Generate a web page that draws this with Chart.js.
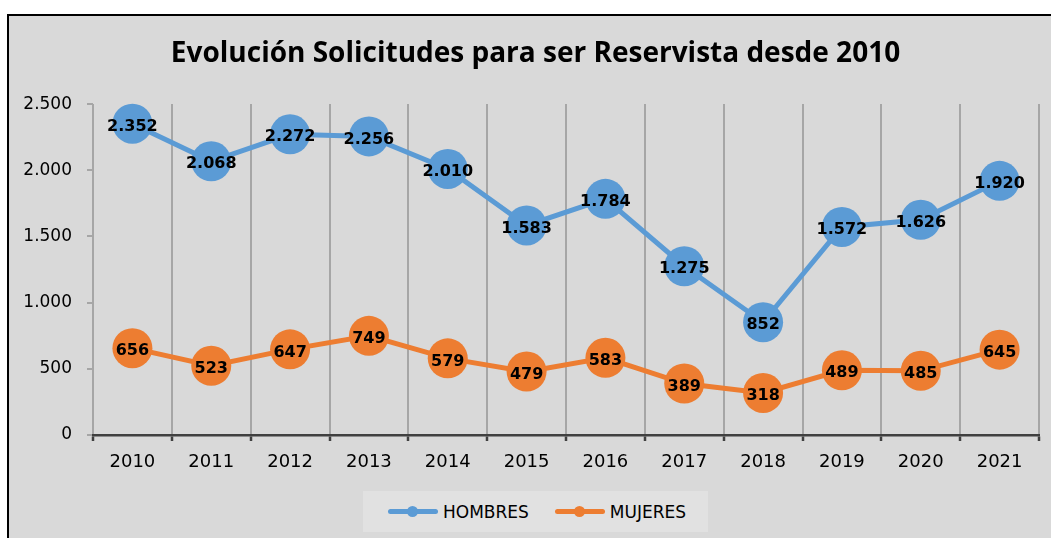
<!DOCTYPE html>
<html>
<head>
<meta charset="utf-8">
<script src="https://cdn.jsdelivr.net/npm/chart.js@4"></script>
<style>
  body { margin: 0; background: #fff; width: 1051px; height: 538px; overflow: hidden; position: relative; }
  #frame { position: absolute; left: 7px; top: 14px; width: 1100px; height: 600px;
           border-left: 2px solid #000; border-top: 2px solid #000; background: #d9d9d9; }
  #chart { position: absolute; left: 0; top: 0; }
  #legend { position: absolute; left: 363px; top: 491px; width: 345px; height: 41px; background: #e1e1e1;
            display: flex; align-items: center; padding-left: 25px; box-sizing: border-box;
            font-family: "DejaVu Sans"; font-size: 17px; color: #000; }
  .item { display: flex; align-items: center; margin-right: 26px; }
  .sw { position: relative; width: 50px; height: 5px; border-radius: 3px; margin-right: 5px; }
  .dot { position: absolute; left: 19px; top: -3px; width: 11px; height: 11px; border-radius: 50%; }
</style>
</head>
<body>
<div id="frame"></div>
<canvas id="chart" width="1051" height="538"></canvas>
<div id="legend"></div>
<script>
const years = ['2010', '2011', '2012', '2013', '2014', '2015', '2016', '2017', '2018', '2019', '2020', '2021'];
const hombres = [2352, 2068, 2272, 2256, 2010, 1583, 1784, 1275, 852, 1572, 1626, 1920];
const mujeres = [656, 523, 647, 749, 579, 479, 583, 389, 318, 489, 485, 645];
const seriesNames = ['HOMBRES', 'MUJERES'];
const seriesColors = ['#5b9bd5', '#ed7d31'];

// miles con punto: 2352 -> 2.352
function fmt(v) {
  return String(v).replace(/\B(?=(\d{3})+(?!\d))/g, '.');
}

const valueLabels = {
  id: 'valueLabels',
  afterLayout(chart) {
    // el título va un poco a la derecha en el original
    if (chart.titleBlock) chart.titleBlock.left += 12;
  },
  afterDatasetsDraw(chart) {
    const ctx = chart.ctx;
    ctx.save();
    ctx.font = 'bold 16px "DejaVu Sans"';
    ctx.fillStyle = '#000';
    ctx.textAlign = 'center';
    ctx.textBaseline = 'middle';
    chart.data.datasets.forEach((ds, i) => {
      chart.getDatasetMeta(i).data.forEach((pt, j) => {
        ctx.fillText(fmt(ds.data[j]), pt.x, pt.y + 3);
      });
    });
    ctx.restore();
  }
};

function makeSet(i, values) {
  return {
    label: seriesNames[i],
    data: values,
    borderColor: seriesColors[i],
    backgroundColor: seriesColors[i],
    borderWidth: 5,
    pointRadius: 20,
    pointHoverRadius: 20,
    pointBorderWidth: 0,
    tension: 0,
    clip: false
  };
}

new Chart(document.getElementById('chart'), {
  type: 'line',
  data: {
    labels: years,
    datasets: [makeSet(0, hombres), makeSet(1, mujeres)]
  },
  options: {
    responsive: false,
    animation: false,
    devicePixelRatio: 1,
    layout: { autoPadding: false, padding: { left: 20, right: 12, top: 0, bottom: 0 } },
    plugins: {
      legend: { display: false },
      tooltip: { enabled: false },
      title: {
        display: true,
        text: 'Evolución Solicitudes para ser Reservista desde 2010',
        color: '#000',
        font: { family: 'Open Sans', size: 28, weight: 'bold' },
        padding: { top: 37, bottom: 33.5 }
      }
    },
    scales: {
      x: {
        offset: true,
        grid: { offset: true, color: '#a6a6a6', lineWidth: 2, tickColor: '#404040', tickWidth: 2.5, tickLength: 6 },
        border: { color: '#404040', width: 2.5 },
        ticks: { color: '#000', font: { family: 'DejaVu Sans', size: 18 }, padding: 11, maxRotation: 0, autoSkip: false },
        afterFit(s) { s.height = 103; s.paddingLeft = 0; s.paddingRight = 0; }
      },
      y: {
        min: 0,
        max: 2500,
        ticks: { stepSize: 500, color: '#000', font: { family: 'DejaVu Sans', size: 17 }, padding: 15, callback: v => fmt(v) },
        grid: { drawOnChartArea: false, color: '#a6a6a6', lineWidth: 2, tickLength: 6 },
        border: { display: false },
        afterFit(s) { s.width = 73; }
      }
    }
  },
  plugins: [valueLabels]
});

// leyenda
const legend = document.getElementById('legend');
seriesNames.forEach((name, i) => {
  const item = document.createElement('div');
  item.className = 'item';
  item.innerHTML = '<div class="sw" style="background:' + seriesColors[i] + '"><div class="dot" style="background:' +
    seriesColors[i] + '"></div></div><span>' + name + '</span>';
  legend.appendChild(item);
});
</script>
</body>
</html>
